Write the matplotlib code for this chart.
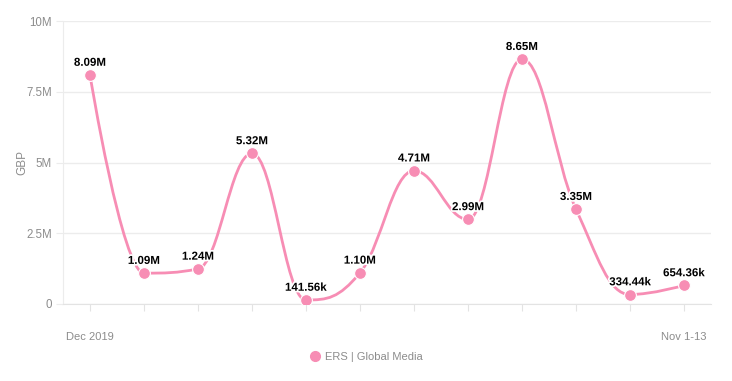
import matplotlib
matplotlib.use("Agg")
import matplotlib.pyplot as plt
import matplotlib.patheffects as pe
from matplotlib.path import Path
from matplotlib.patches import PathPatch
from matplotlib.lines import Line2D
import numpy as np

# data
periods = ["Dec 2019", "", "", "", "", "", "", "", "", "", "", "Nov 1-13"]
values = [8.09e6, 1.09e6, 1.24e6, 5.32e6, 141.56e3, 1.10e6,
          4.71e6, 2.99e6, 8.65e6, 3.35e6, 334.44e3, 654.36e3]
value_labels = ["8.09M", "1.09M", "1.24M", "5.32M", "141.56k", "1.10M",
                "4.71M", "2.99M", "8.65M", "3.35M", "334.44k", "654.36k"]
series_name = "ERS | Global Media"

pink = "#f78db4"
grid_col = "#ececec"
text_col = "#8c8c8c"

plt.rcParams['font.family'] = ['Liberation Sans', 'DejaVu Sans']


def spline_path(xs, ys, smoothing=1.5):
    """build a smooth bezier path through the points (highcharts-style spline)"""
    n = len(xs)
    left = [(xs[i], ys[i]) for i in range(n)]
    right = [(xs[i], ys[i]) for i in range(n)]
    denom = smoothing + 1
    for i in range(1, n - 1):
        px, py = xs[i], ys[i]
        lx, ly = xs[i - 1], ys[i - 1]
        nx, ny = xs[i + 1], ys[i + 1]
        lcx = (smoothing * px + lx) / denom
        lcy = (smoothing * py + ly) / denom
        rcx = (smoothing * px + nx) / denom
        rcy = (smoothing * py + ny) / denom
        corr = ((rcy - lcy) * (rcx - px)) / (rcx - lcx) + py - rcy
        lcy += corr
        rcy += corr
        if lcy > ly and lcy > py:
            lcy = max(ly, py)
            rcy = 2 * py - lcy
        elif lcy < ly and lcy < py:
            lcy = min(ly, py)
            rcy = 2 * py - lcy
        if rcy > ny and rcy > py:
            rcy = max(ny, py)
            lcy = 2 * py - rcy
        elif rcy < ny and rcy < py:
            rcy = min(ny, py)
            lcy = 2 * py - rcy
        left[i] = (lcx, lcy)
        right[i] = (rcx, rcy)
    verts = [(xs[0], ys[0])]
    codes = [Path.MOVETO]
    for i in range(1, n):
        verts += [right[i - 1], left[i], (xs[i], ys[i])]
        codes += [Path.CURVE4] * 3
    return Path(verts, codes)


fig = plt.figure(figsize=(7.32, 3.81), dpi=100)
ax = fig.add_axes([63 / 732, 77 / 381, 648 / 732, 283 / 381])

x = np.arange(len(values))
ax.add_patch(PathPatch(spline_path(x, values), facecolor='none',
                       edgecolor=pink, lw=2, zorder=3))
ax.plot(x, values, 'o', color=pink, ms=8.5, mec='white', mew=0.8, zorder=4)

for xi, v, lab in zip(x, values, value_labels):
    ax.annotate(lab, (xi, v), xytext=(0, 4.5), textcoords='offset points',
                ha='center', va='bottom', fontsize=8.3, fontweight='bold',
                color='black', zorder=5,
                path_effects=[pe.withStroke(linewidth=2.5, foreground='white')])

ax.set_xlim(-0.5, len(values) - 0.5)
ax.set_ylim(0, 10e6)
ax.set_yticks([0, 2.5e6, 5e6, 7.5e6, 10e6])
ax.set_yticklabels(["0", "2.5M", "5M", "7.5M", "10M"])
ax.set_xticks(x)
ax.set_xticklabels(periods)

ax.grid(axis='y', color=grid_col, lw=1)
ax.set_axisbelow(True)
for s in ['top', 'right']:
    ax.spines[s].set_visible(False)
ax.spines['left'].set_color(grid_col)
ax.spines['bottom'].set_color('#e3e3e3')
ax.tick_params(axis='x', length=5, color='#e3e3e3', pad=15,
               labelsize=8, labelcolor=text_col)
ax.tick_params(axis='y', length=5, color=grid_col, pad=3,
               labelsize=8.3, labelcolor=text_col)
ax.set_ylabel("GBP", color=text_col, fontsize=8.5)
ax.yaxis.set_label_coords(-35 / 648, 0.5)

handle = Line2D([], [], marker='o', color=pink, ls='none', ms=7)
fig.legend([handle], [series_name], loc='center', bbox_to_anchor=(0.5, 24 / 381),
           frameon=False, fontsize=8, labelcolor=text_col,
           handletextpad=0.3, handlelength=1.2)

fig.savefig("out.png", dpi=100)
